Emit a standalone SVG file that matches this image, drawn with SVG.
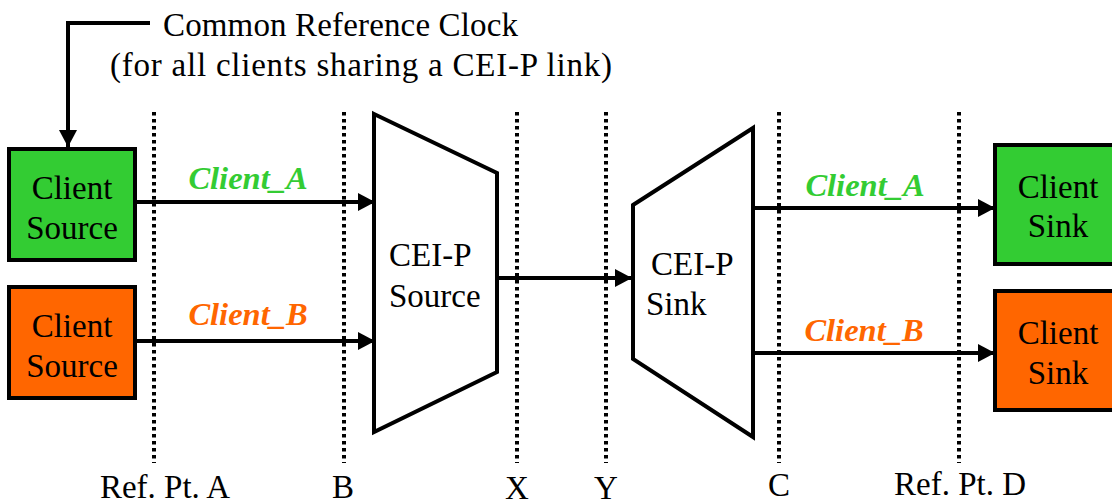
<svg xmlns="http://www.w3.org/2000/svg" width="1112" height="504" viewBox="0 0 1112 504">
<style>
  .t { font-family: "Liberation Serif", Tinos, "DejaVu Serif", "Noto Serif", "Times New Roman", serif; font-size: 33px; fill: #000; }
  .lbl { font-family: "Liberation Serif", Tinos, "DejaVu Serif", "Noto Serif", "Times New Roman", serif; font-size: 32.5px; font-weight: bold; font-style: italic; }
  .ga { fill: #33CC33; }
  .ob { fill: #FF6600; }
  .box { stroke: #000; stroke-width: 4; }
  .trap { fill: #fff; stroke: #000; stroke-width: 4; stroke-linejoin: miter; }
  .conn { fill: none; stroke: #000; stroke-width: 4; marker-end: url(#ah); }
  .dot { fill: none; stroke: #000; stroke-width: 4; stroke-dasharray: 3.6 3.4; }
</style>
<defs>
  <marker id="ah" markerUnits="userSpaceOnUse" markerWidth="18" markerHeight="20" refX="17" refY="10" orient="auto">
    <path d="M0,1 L17,10 L0,19 z" fill="#000"/>
  </marker>
</defs>
<rect width="1112" height="504" fill="#fff"/>

<g id="refpoints">
  <line class="dot" x1="154" y1="112" x2="154" y2="463"/>
  <line class="dot" x1="344" y1="112" x2="344" y2="463"/>
  <line class="dot" x1="517" y1="112" x2="517" y2="463"/>
  <line class="dot" x1="606" y1="112" x2="606" y2="463"/>
  <line class="dot" x1="779" y1="112" x2="779" y2="463"/>
  <line class="dot" x1="959" y1="112" x2="959" y2="463"/>
  <text class="t" x="165" y="498" text-anchor="middle">Ref. Pt. A</text>
  <text class="t" x="343" y="498" text-anchor="middle">B</text>
  <text class="t" x="517" y="499" text-anchor="middle">X</text>
  <text class="t" x="606" y="499" text-anchor="middle">Y</text>
  <text class="t" x="779" y="496" text-anchor="middle">C</text>
  <text class="t" x="960" y="495" text-anchor="middle">Ref. Pt. D</text>
</g>

<g id="clock">
  <text class="t" x="163" y="36" font-size="33.5" textLength="355" lengthAdjust="spacing">Common Reference Clock</text>
  <text class="t" x="110" y="76" font-size="34" textLength="502" lengthAdjust="spacing">(for all clients sharing a CEI-P link)</text>
</g>

<g id="src_a">
  <rect class="box ga" x="9" y="149" width="126" height="111"/>
  <text class="t" x="72" y="199" text-anchor="middle">Client</text>
  <text class="t" x="72" y="239" text-anchor="middle">Source</text>
</g>
<g id="src_b">
  <rect class="box ob" x="9" y="287" width="126" height="111"/>
  <text class="t" x="72" y="337" text-anchor="middle">Client</text>
  <text class="t" x="72" y="377" text-anchor="middle">Source</text>
</g>

<g id="ceip_source">
  <polygon class="trap" points="374,114 497,173 497,372 374,432"/>
  <text class="t" x="389" y="266">CEI-P</text>
  <text class="t" x="389" y="307">Source</text>
</g>

<g id="ceip_sink">
  <polygon class="trap" points="633,205 753,128 753,437 633,359"/>
  <text class="t" x="651" y="275">CEI-P</text>
  <text class="t" x="646" y="315">Sink</text>
</g>

<g id="sink_a">
  <rect class="box ga" x="995" y="145" width="126" height="119"/>
  <text class="t" x="1058" y="198" text-anchor="middle">Client</text>
  <text class="t" x="1058" y="237" text-anchor="middle">Sink</text>
</g>
<g id="sink_b">
  <rect class="box ob" x="995" y="291" width="126" height="119"/>
  <text class="t" x="1058" y="344" text-anchor="middle">Client</text>
  <text class="t" x="1058" y="384" text-anchor="middle">Sink</text>
</g>

<g id="connectors">
  <path class="conn" d="M150,23 H68 V147"/>
  <path class="conn" d="M135,202 H375"/>
  <path class="conn" d="M135,341 H375"/>
  <path class="conn" d="M499,278 H632"/>
  <path class="conn" d="M753,208 H995"/>
  <path class="conn" d="M753,353 H995"/>
  <text class="lbl ga" x="248" y="189" text-anchor="middle">Client_A</text>
  <text class="lbl ob" x="248" y="325" text-anchor="middle">Client_B</text>
  <text class="lbl ga" x="865" y="196" text-anchor="middle">Client_A</text>
  <text class="lbl ob" x="864" y="341" text-anchor="middle">Client_B</text>
</g>
</svg>
